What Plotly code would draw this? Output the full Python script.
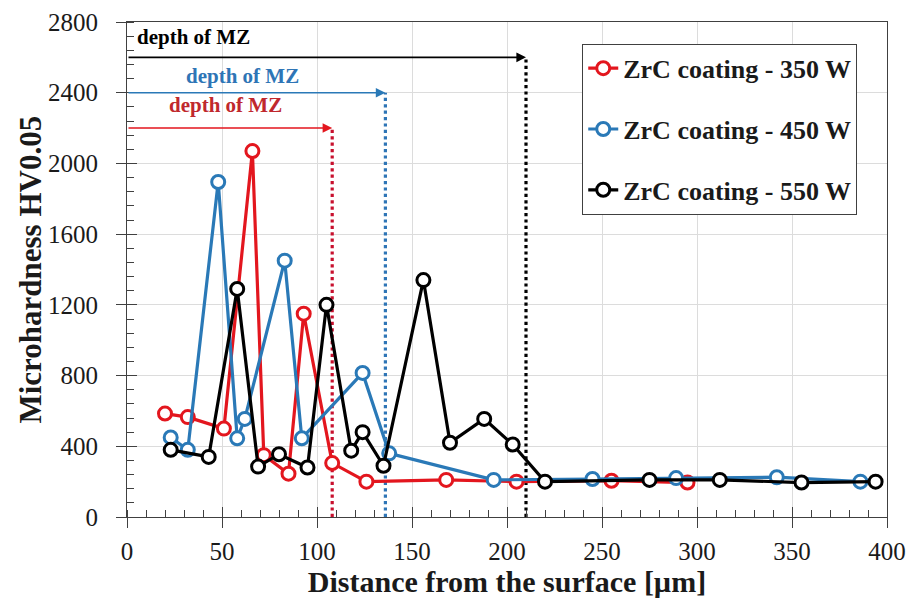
import plotly.graph_objects as go

# ---- data ----
x_350 = [20, 32, 51, 66, 72, 85, 93, 108, 126, 168, 205, 255, 295]
y_350 = [585, 565, 500, 2070, 350, 245, 1150, 305, 200, 210, 200, 205, 195]

x_450 = [23, 32, 48, 58, 62, 83, 92, 124, 138, 193, 245, 289, 342, 386]
y_450 = [450, 380, 1895, 445, 555, 1450, 445, 815, 360, 210, 215, 220, 225, 200]

x_550 = [23, 43, 58, 69, 80, 95, 105, 118, 124, 135, 156, 170, 188, 203, 220, 275, 312, 355, 394]
y_550 = [380, 340, 1290, 285, 355, 280, 1200, 375, 480, 290, 1340, 420, 555, 410, 200, 210, 210, 195, 200]

series_names = ["ZrC coating - 350 W", "ZrC coating - 450 W", "ZrC coating - 550 W"]
series_colors = ["#E3161E", "#2A79B7", "#000000"]
dotted_colors = ["#C8102E", "#2E75B6", "#000000"]
text_colors = ["#C0282D", "#2E75B6", "#000000"]

depth_x = [108, 136, 210]        # depth of MZ for each power
depth_arrow_y = [2200, 2400, 2600]
depth_label = "depth of MZ"
depth_label_x = [52, 61, 35]
depth_label_y = [2330, 2495, 2715]

x_ticks = [0, 50, 100, 150, 200, 250, 300, 350, 400]
y_ticks = [0, 400, 800, 1200, 1600, 2000, 2400, 2800]

x_title = "Distance from the surface [µm]"
y_title = "Microhardness HV0.05"

FONT = "Liberation Serif"
AX = "#404040"

fig = go.Figure()

# dotted vertical "depth" lines (drawn under the data)
for dx, dy, c in zip(depth_x, depth_arrow_y, dotted_colors):
    fig.add_trace(go.Scatter(x=[dx, dx], y=[0, dy], mode="lines",
                             line=dict(color=c, width=3.2, dash="dot"),
                             showlegend=False, hoverinfo="skip"))

for i, (xs, ys) in enumerate([(x_350, y_350), (x_450, y_450), (x_550, y_550)]):
    fig.add_trace(go.Scatter(
        x=xs, y=ys, mode="lines+markers", name=f"<b>{series_names[i]}</b>",
        legendgroup=f"g{i}",
        line=dict(color=series_colors[i], width=3.2),
        marker=dict(symbol="circle", size=13, color="white",
                    line=dict(color=series_colors[i], width=3)),
    ))

# overlay axes only used to draw the inner half of the major ticks
fig.add_trace(go.Scatter(x=[], y=[], xaxis="x2", yaxis="y2",
                         showlegend=False, hoverinfo="skip"))

# arrows and labels
for dx, dy, c, tc, lx, ly in zip(depth_x, depth_arrow_y, series_colors, text_colors,
                                 depth_label_x, depth_label_y):
    fig.add_annotation(x=dx, y=dy, ax=0, ay=dy, xref="x", yref="y",
                       axref="x", ayref="y", showarrow=True, text="",
                       arrowhead=2, arrowsize=1.2, arrowwidth=1.6, arrowcolor=c)
    fig.add_annotation(x=lx, y=ly, xref="x", yref="y", text=f"<b>{depth_label}</b>",
                       showarrow=False, font=dict(family=FONT, size=21, color=tc))

# y-axis title as a rotated annotation (fixed position)
fig.add_annotation(x=-0.1276, y=0.5, xref="paper", yref="paper",
                   text=f"<b>{y_title}</b>", textangle=-90, showarrow=False,
                   xanchor="center", yanchor="middle",
                   font=dict(family=FONT, size=31, color="#1a1a1a"))

axis_common = dict(
    showline=True, linecolor=AX, linewidth=1, mirror=True,
    showgrid=True, gridcolor="#DCDCDC", gridwidth=1,
    ticks="outside", ticklen=10, tickcolor=AX, tickwidth=1,
    tickfont=dict(family=FONT, size=25, color="#1a1a1a"),
    zeroline=False, automargin=False,
)

fig.update_xaxes(
    range=[0, 400], tickmode="array", tickvals=x_ticks,
    minor=dict(dtick=10, ticks="inside", ticklen=7, tickcolor=AX, showgrid=False),
    title=dict(text=f"<b>{x_title}</b>",
               font=dict(family=FONT, size=30, color="#1a1a1a"), standoff=4),
    ticklabelstandoff=2,
    **axis_common,
)
fig.update_yaxes(
    range=[0, 2800], tickmode="array", tickvals=y_ticks,
    minor=dict(dtick=80, ticks="inside", ticklen=7, tickcolor=AX, showgrid=False),
    ticklabelstandoff=13,
    **axis_common,
)

fig.update_layout(
    width=914, height=606,
    margin=dict(l=127, r=27, t=22, b=89),
    paper_bgcolor="white", plot_bgcolor="white",
    showlegend=True,
    xaxis2=dict(overlaying="x", anchor="y2", side="bottom", range=[0, 400],
                tickmode="array", tickvals=x_ticks, ticks="inside", ticklen=10,
                tickcolor=AX, showticklabels=False, showgrid=False,
                showline=False, zeroline=False, automargin=False),
    yaxis2=dict(overlaying="y", anchor="x2", side="left", range=[0, 2800],
                tickmode="array", tickvals=y_ticks, ticks="inside", ticklen=10,
                tickcolor=AX, showticklabels=False, showgrid=False,
                showline=False, zeroline=False, automargin=False),
    legend=dict(x=0.599, y=0.956, xanchor="left", yanchor="top",
                bgcolor="white", bordercolor=AX, borderwidth=1,
                font=dict(family=FONT, size=26, color="#1a1a1a"),
                traceorder="grouped", tracegroupgap=24, itemwidth=30),
)

fig.write_html("out.html", config={"displayModeBar": False},
               post_script="document.body.style.margin='0';")
